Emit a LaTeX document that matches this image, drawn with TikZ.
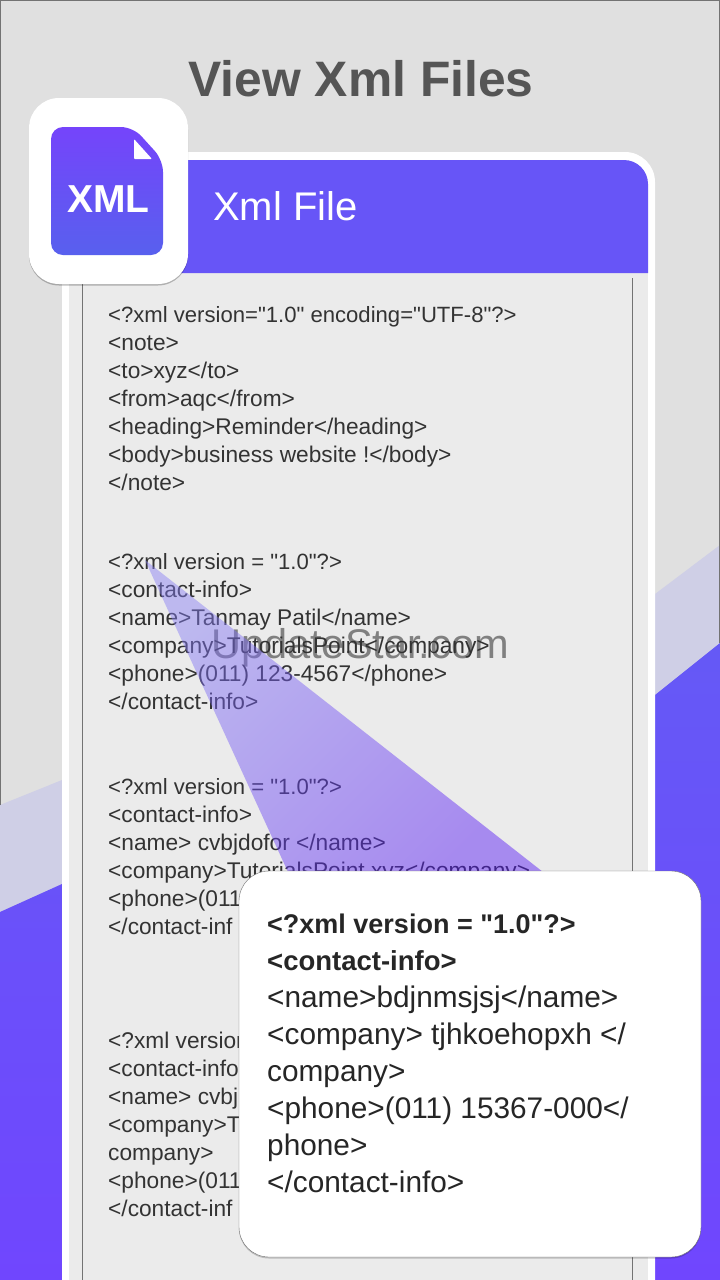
\documentclass[tikz,border=0pt]{standalone}
\usepackage{fontspec}
\setmainfont{Liberation Sans}
\newfontfamily\xmlfont{Liberation Sans}
\usetikzlibrary{shadows}
\definecolor{bggray}{HTML}{E0E0E0}
\definecolor{bandlav}{HTML}{CFCFE6}
\definecolor{violettop}{HTML}{6559F6}
\definecolor{violetbot}{HTML}{7046FE}
\definecolor{headviolet}{HTML}{6755F7}
\definecolor{panelgray}{HTML}{EBEBEB}
\definecolor{doctop}{HTML}{7544FB}
\definecolor{docbot}{HTML}{5860EE}
\definecolor{titlegray}{HTML}{555555}
\definecolor{listtext}{HTML}{333333}
\definecolor{beamtop}{HTML}{857CF6}
\definecolor{beambot}{HTML}{5415F6}
\tikzset{
  listline/.style={anchor=base west,text=listtext,font=\xmlfont\fontsize{22.7}{22.7}\selectfont},
  listquote/.style={listline,font=\xmlfont\fontsize{22.1}{22.1}\selectfont},
  popline/.style={anchor=base west,text=black!85,font=\xmlfont\fontsize{29.8}{29.8}\selectfont},
  popbold/.style={popline,font=\xmlfont\fontsize{27.5}{27.5}\selectfont\bfseries},
  edgeline/.style={draw=black!55,line width=1pt}
}
\begin{document}
\begin{tikzpicture}[x=1pt,y=1pt]
\tikzstyle{every node}+=[inner sep=0pt]
\useasboundingbox (0,0) rectangle (720,-1280);
% background
\fill [bggray] (0,0) rectangle (720,-1280);
\fill [bandlav] (0,-805) -- (62,-780) -- (655,-594) -- (720,-545) -- (720,-800) -- (0,-1000);
\shade [top color=violettop,bottom color=violetbot] (0,-912) -- (62,-884) -- (655,-695) -- (720,-643) -- (720,-1280) -- (0,-1280);
\draw [edgeline] (0.5,-805) -- (0.5,0) -- (719.5,0) -- (719.5,-643);
% card
\fill [white,rounded corners=30] (62,-1320) -- (62,-152) -- (655,-152) -- (655,-1320);
\fill [panelgray] (69,-273) rectangle (648,-1280);
\fill [headviolet] (69,-273) -- (69,-160) [rounded corners=24] -- (648,-160) [sharp corners] -- (648,-273) -- cycle;
\draw [black!55] (82.5,-278) -- (82.5,-1280);
\draw [black!55] (632.5,-278) -- (632.5,-1280);
\draw (213,-220) node (headlabel) [anchor=base west,text=white,font=\fontsize{40}{40}\selectfont] {Xml File};
\draw (361,-96) node (title) [anchor=base,text=titlegray,font=\fontsize{49.8}{49.8}\selectfont\bfseries] {View Xml Files};
% first block
\draw (108,-322) node (a1) [listquote] {<?xml version="1.0" encoding="UTF-8"?>};
\draw (108,-350) node (a2) [listline] {<note>};
\draw (108,-378) node (a3) [listline] {<to>xyz</to>};
\draw (108,-406) node (a4) [listline] {<from>aqc</from>};
\draw (108,-434) node (a5) [listline] {<heading>Reminder</heading>};
\draw (108,-462) node (a6) [listline] {<body>business website !</body>};
\draw (108,-490) node (a7) [listline] {</note>};
% watermark
\draw (360,-658) node (wmark) [anchor=base,text=black!50,font=\fontsize{41.5}{41.5}\selectfont] {UpdateStar.com};
% second block
\draw (108,-569) node (b1) [listquote] {<?xml version = "1.0"?>};
\draw (108,-597) node (b2) [listline] {<contact-info>};
\draw (108,-625) node (b3) [listline] {<name>Tanmay Patil</name>};
\draw (108,-653) node (b4) [listline] {<company>TutorialsPoint</company>};
\draw (108,-681) node (b5) [listline] {<phone>(011) 123-4567</phone>};
\draw (108,-709) node (b6) [listline] {</contact-info>};
% third block
\draw (108,-794) node (c1) [listquote] {<?xml version = "1.0"?>};
\draw (108,-822) node (c2) [listline] {<contact-info>};
\draw (108,-850) node (c3) [listline] {<name> cvbjdofor </name>};
\draw (108,-878) node (c4) [listline] {<company>TutorialsPoint.xyz</company>};
\draw (108,-906) node (c5) [listline] {<phone>(011};
\draw (108,-934) node (c6) [listline] {</contact-inf};
% fourth block
\draw (108,-1048) node (d1) [listline] {<?xml version};
\draw (108,-1076) node (d2) [listline] {<contact-info};
\draw (108,-1104) node (d3) [listline] {<name> cvbj};
\draw (108,-1132) node (d4) [listline] {<company>T};
\draw (108,-1160) node (d5) [listline] {company>};
\draw (108,-1188) node (d6) [listline] {<phone>(011};
\draw (108,-1216) node (d7) [listline] {</contact-inf};
% beam
\shade [top color=beamtop,bottom color=beambot,shading angle=45,opacity=0.45] (145,-560) -- (543,-872) -- (288,-872);
% icon
\fill [white,rounded corners=30,drop shadow={shadow xshift=0pt,shadow yshift=-1.5pt,opacity=0.25,fill=black}] (29,-98) rectangle (188,-284);
\shade [top color=doctop,bottom color=docbot,rounded corners=12] (51,-127) -- (133,-127) -- (163,-160) -- (163,-255) -- (51,-255) -- cycle;
\fill [white,rounded corners=1] (134,-139) -- (152,-159) -- (134,-159) -- cycle;
\draw (108.5,-212) node (iconlabel) [anchor=base,text=white,font=\fontsize{39}{39}\selectfont\bfseries] {XML};
% popup
\draw [black!55,fill=white,rounded corners=30,drop shadow={shadow xshift=0pt,shadow yshift=-1.5pt,opacity=0.2,fill=black}] (239,-871) rectangle (701,-1257);
\draw (267,-933) node (p1) [popbold,font=\xmlfont\fontsize{27}{27}\selectfont\bfseries] {<?xml version = "1.0"?>};
\draw (267,-970) node (p2) [popbold] {<contact-info>};
\draw (267,-1007.5) node (p3) [popline] {<name>bdjnmsjsj</name>};
\draw (267,-1044.5) node (p4) [popline] {<company> tjhkoehopxh </};
\draw (267,-1081.5) node (p5) [popline] {company>};
\draw (267,-1118.5) node (p6) [popline] {<phone>(011) 15367-000</};
\draw (267,-1155.5) node (p7) [popline] {phone>};
\draw (267,-1192.5) node (p8) [popline] {</contact-info>};
\end{tikzpicture}
\end{document}
